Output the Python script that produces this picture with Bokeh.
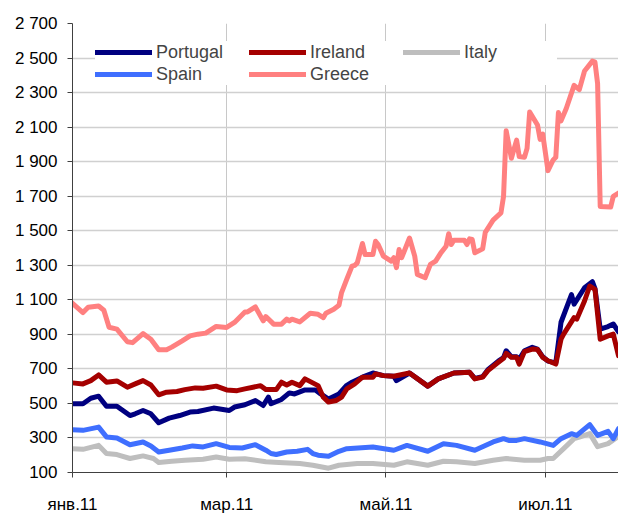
import pandas as pd
from bokeh.plotting import figure
from bokeh.models import FixedTicker, Legend, LegendItem, Range1d
from bokeh.embed import file_html
from bokeh.resources import INLINE

# ---------------- data ----------------
portugal_dates = ["2011-01-01", "2011-01-05", "2011-01-08", "2011-01-11", "2011-01-14", "2011-01-18",
                  "2011-01-23", "2011-01-25", "2011-01-28", "2011-01-31", "2011-02-03", "2011-02-07",
                  "2011-02-11", "2011-02-15", "2011-02-18", "2011-02-24", "2011-03-02", "2011-03-04",
                  "2011-03-08", "2011-03-12", "2011-03-15", "2011-03-17", "2011-03-18", "2011-03-22",
                  "2011-03-25", "2011-03-27", "2011-03-31", "2011-04-04", "2011-04-06", "2011-04-09",
                  "2011-04-13", "2011-04-16", "2011-04-18", "2011-04-22", "2011-04-26", "2011-04-30",
                  "2011-05-04", "2011-05-05", "2011-05-10", "2011-05-17", "2011-05-21", "2011-05-27",
                  "2011-06-02", "2011-06-04", "2011-06-07", "2011-06-09", "2011-06-13", "2011-06-15",
                  "2011-06-16", "2011-06-18", "2011-06-20", "2011-06-21", "2011-06-23", "2011-06-26",
                  "2011-06-28", "2011-06-30", "2011-07-02", "2011-07-05", "2011-07-07", "2011-07-11",
                  "2011-07-12", "2011-07-16", "2011-07-19", "2011-07-20", "2011-07-22", "2011-07-25",
                  "2011-07-27", "2011-07-29"]
portugal_values = [498, 498, 530, 542, 484, 484,
                   430, 440, 459, 440, 388, 415,
                   430, 450, 453, 473, 459, 479,
                   492, 517, 488, 536, 498, 523,
                   561, 555, 578, 578, 555, 525,
                   555, 605, 623, 652, 676, 661,
                   657, 632, 676, 600, 642, 676,
                   680, 645, 655, 695, 745, 765,
                   805, 770, 770, 755, 805, 825,
                   815, 770, 745, 735, 970, 1130,
                   1075, 1170, 1205, 1165, 930, 945,
                   960, 915]

ireland_dates = ["2011-01-01", "2011-01-05", "2011-01-08", "2011-01-11", "2011-01-14", "2011-01-18",
                 "2011-01-22", "2011-01-25", "2011-01-28", "2011-01-31", "2011-02-03", "2011-02-06",
                 "2011-02-10", "2011-02-13", "2011-02-17", "2011-02-20", "2011-02-25", "2011-03-01",
                 "2011-03-05", "2011-03-08", "2011-03-14", "2011-03-16", "2011-03-20", "2011-03-22",
                 "2011-03-24", "2011-03-26", "2011-03-29", "2011-03-31", "2011-04-05", "2011-04-07",
                 "2011-04-09", "2011-04-12", "2011-04-14", "2011-04-16", "2011-04-19", "2011-04-22",
                 "2011-04-26", "2011-04-27", "2011-04-30", "2011-05-04", "2011-05-10", "2011-05-17",
                 "2011-05-21", "2011-05-27", "2011-06-02", "2011-06-04", "2011-06-07", "2011-06-09",
                 "2011-06-13", "2011-06-15", "2011-06-16", "2011-06-18", "2011-06-20", "2011-06-21",
                 "2011-06-23", "2011-06-26", "2011-06-28", "2011-06-30", "2011-07-02", "2011-07-05",
                 "2011-07-07", "2011-07-08", "2011-07-12", "2011-07-13", "2011-07-16", "2011-07-18",
                 "2011-07-20", "2011-07-22", "2011-07-25", "2011-07-27", "2011-07-29"]
ireland_values = [619, 613, 632, 665, 623, 630,
                  594, 613, 632, 607, 550, 565,
                  569, 580, 590, 588, 600, 578,
                  574, 584, 603, 580, 580, 623,
                  607, 623, 603, 642, 603, 536,
                  508, 517, 536, 584, 613, 652,
                  652, 671, 661, 657, 676, 600,
                  642, 676, 680, 642, 652, 690,
                  738, 761, 790, 767, 767, 728,
                  800, 815, 812, 767, 747, 728,
                  872, 901, 997, 988, 1093, 1180,
                  1161, 872, 891, 901, 776]

italy_dates = ["2011-01-01", "2011-01-05", "2011-01-11", "2011-01-14", "2011-01-18", "2011-01-23",
               "2011-01-28", "2011-02-01", "2011-02-03", "2011-02-08", "2011-02-13", "2011-02-20",
               "2011-02-25", "2011-03-02", "2011-03-08", "2011-03-16", "2011-03-21", "2011-03-29",
               "2011-04-03", "2011-04-09", "2011-04-13", "2011-04-20", "2011-04-26", "2011-05-04",
               "2011-05-09", "2011-05-17", "2011-05-23", "2011-05-28", "2011-06-04", "2011-06-11",
               "2011-06-16", "2011-06-23", "2011-06-29", "2011-07-02", "2011-07-04", "2011-07-08",
               "2011-07-12", "2011-07-14", "2011-07-18", "2011-07-21", "2011-07-25", "2011-07-29"]
italy_values = [238, 234, 257, 210, 204, 181,
                196, 181, 158, 165, 171, 177,
                190, 177, 180, 162, 158, 152,
                142, 125, 142, 152, 152, 142,
                162, 142, 165, 162, 152, 171,
                181, 171, 171, 181, 181, 238,
                296, 305, 325, 250, 267, 310]

spain_dates = ["2011-01-01", "2011-01-05", "2011-01-11", "2011-01-14", "2011-01-18", "2011-01-23",
               "2011-01-28", "2011-01-31", "2011-02-03", "2011-02-07", "2011-02-12", "2011-02-16",
               "2011-02-20", "2011-02-25", "2011-03-02", "2011-03-07", "2011-03-12", "2011-03-16",
               "2011-03-18", "2011-03-20", "2011-03-24", "2011-03-28", "2011-04-01", "2011-04-03",
               "2011-04-05", "2011-04-09", "2011-04-13", "2011-04-16", "2011-04-26", "2011-05-04",
               "2011-05-09", "2011-05-17", "2011-05-23", "2011-05-28", "2011-06-04", "2011-06-11",
               "2011-06-15", "2011-06-17", "2011-06-20", "2011-06-23", "2011-06-29", "2011-07-04",
               "2011-07-07", "2011-07-11", "2011-07-13", "2011-07-18", "2011-07-21", "2011-07-25",
               "2011-07-27", "2011-07-29"]
spain_values = [348, 344, 363, 306, 300, 261,
                277, 254, 219, 229, 242, 254,
                248, 267, 245, 242, 261, 229,
                210, 204, 219, 223, 234, 210,
                200, 194, 223, 238, 248, 229,
                257, 223, 267, 257, 229, 277,
                296, 286, 286, 296, 277, 257,
                296, 325, 315, 377, 315, 338,
                296, 354]

greece_dates = ["2011-01-01", "2011-01-05", "2011-01-07", "2011-01-11", "2011-01-13", "2011-01-15",
                "2011-01-18", "2011-01-22", "2011-01-24", "2011-01-28", "2011-01-31", "2011-02-03",
                "2011-02-06", "2011-02-08", "2011-02-12", "2011-02-15", "2011-02-18", "2011-02-21",
                "2011-02-25", "2011-03-01", "2011-03-04", "2011-03-08", "2011-03-09", "2011-03-12",
                "2011-03-15", "2011-03-16", "2011-03-19", "2011-03-22", "2011-03-24", "2011-03-25",
                "2011-03-26", "2011-03-29", "2011-04-02", "2011-04-05", "2011-04-07", "2011-04-08",
                "2011-04-11", "2011-04-13", "2011-04-14", "2011-04-16", "2011-04-18", "2011-04-19",
                "2011-04-20", "2011-04-22", "2011-04-23", "2011-04-26", "2011-04-27", "2011-04-28",
                "2011-04-30", "2011-05-03", "2011-05-04", "2011-05-05", "2011-05-06", "2011-05-07",
                "2011-05-10", "2011-05-12", "2011-05-13", "2011-05-16", "2011-05-18", "2011-05-20",
                "2011-05-22", "2011-05-24", "2011-05-25", "2011-05-26", "2011-05-27", "2011-05-31",
                "2011-06-01", "2011-06-02", "2011-06-03", "2011-06-04", "2011-06-07", "2011-06-08",
                "2011-06-11", "2011-06-14", "2011-06-15", "2011-06-16", "2011-06-18", "2011-06-20",
                "2011-06-21", "2011-06-23", "2011-06-24", "2011-06-25", "2011-06-28", "2011-06-29",
                "2011-06-30", "2011-07-02", "2011-07-04", "2011-07-05", "2011-07-06", "2011-07-07",
                "2011-07-09", "2011-07-12", "2011-07-14", "2011-07-16", "2011-07-19", "2011-07-20",
                "2011-07-21", "2011-07-22", "2011-07-26", "2011-07-27", "2011-07-29"]
greece_values = [1080, 1026, 1057, 1064, 1040, 941,
                 930, 857, 852, 904, 872, 811,
                 811, 826, 862, 891, 901, 907,
                 946, 940, 969, 1030, 1030, 1059,
                 978, 1003, 959, 959, 988, 978,
                 988, 972, 1022, 1016, 997, 1022,
                 1045, 1068, 1142, 1220, 1295, 1299,
                 1314, 1426, 1362, 1362, 1439, 1420,
                 1353, 1324, 1344, 1286, 1391, 1344,
                 1458, 1353, 1247, 1228, 1305, 1324,
                 1372, 1410, 1483, 1420, 1445, 1445,
                 1420, 1453, 1449, 1372, 1395, 1491,
                 1561, 1603, 1699, 2079, 1920, 2025,
                 1929, 1925, 1977, 2188, 2112, 2029,
                 2060, 1848, 1910, 1925, 2184, 2136,
                 2208, 2342, 2317, 2425, 2482, 2476,
                 2352, 1641, 1637, 1699, 1718]

series_names = ["Portugal", "Ireland", "Italy", "Spain", "Greece"]
series_colors = ["#000080", "#A50000", "#BEBEBE", "#3F6FFF", "#FF8080"]

x_tick_dates = ["2011-01-01", "2011-03-01", "2011-05-01", "2011-07-01"]
x_tick_labels = ["янв.11", "мар.11", "май.11", "июл.11"]
y_ticks = [100, 300, 500, 700, 900, 1100, 1300, 1500, 1700, 1900, 2100, 2300, 2500, 2700]
y_tick_labels = ["100", "300", "500", "700", "900", "1 100", "1 300", "1 500", "1 700",
                 "1 900", "2 100", "2 300", "2 500", "2 700"]
x_start, x_end = "2011-01-01", "2011-07-29"

# ---------------- figure ----------------
def ms(d):
    return int(pd.Timestamp(d).value // 10**6)

p = figure(width=618, height=516, x_axis_type="datetime",
           output_backend="svg", toolbar_location=None,
           x_range=Range1d(ms(x_start), ms(x_end)),
           y_range=Range1d(y_ticks[0], y_ticks[-1]),
           min_border_left=72, min_border_right=0, min_border_top=23, min_border_bottom=42)
p.outline_line_color = None
p.background_fill_color = "white"

all_series = [
    (portugal_dates, portugal_values),
    (ireland_dates, ireland_values),
    (italy_dates, italy_values),
    (spain_dates, spain_values),
    (greece_dates, greece_values),
]
renderers = {}
for name, color, (d, v) in zip(series_names, series_colors, all_series):
    r = p.line(pd.to_datetime(d), v, line_color=color, line_width=5,
               line_join="round", line_cap="round")
    renderers[name] = r

# axes
x_tick_ms = [ms(d) for d in x_tick_dates]
p.xaxis.ticker = FixedTicker(ticks=x_tick_ms)
p.xaxis.major_label_overrides = {t: lab for t, lab in zip(x_tick_ms, x_tick_labels)}
p.yaxis.ticker = FixedTicker(ticks=y_ticks)
p.yaxis.major_label_overrides = {t: lab for t, lab in zip(y_ticks, y_tick_labels)}

for ax in (p.xaxis, p.yaxis):
    ax.axis_line_color = "#404040"
    ax.axis_line_width = 1
    ax.major_tick_line_color = "#404040"
    ax.major_tick_out = 5
    ax.major_tick_in = 0
    ax.minor_tick_line_color = None
    ax.major_label_text_font = "Liberation Sans"
    ax.major_label_text_font_size = "17px"
    ax.major_label_text_color = "black"
p.yaxis.major_label_standoff = 10
p.xaxis.major_label_standoff = 17

p.xgrid.ticker = FixedTicker(ticks=x_tick_ms)
p.ygrid.ticker = FixedTicker(ticks=y_ticks)
p.xgrid.grid_line_color = "#c8c8c8"
p.xgrid.grid_line_width = 1
p.ygrid.grid_line_color = "#d0d0d0"
p.ygrid.grid_line_width = 1.5

legend_order = ["Portugal", "Ireland", "Italy", "Spain", "Greece"]
legend = Legend(items=[LegendItem(label=n, renderers=[renderers[n]]) for n in legend_order],
                orientation="horizontal", ncols=3,
                location=(23, 387),
                label_text_font="Liberation Sans", label_text_font_size="18px",
                glyph_width=57, glyph_height=22, label_standoff=4,
                label_width=93, label_height=22, spacing=0, padding=3, margin=0,
                background_fill_color="white", background_fill_alpha=1.0,
                border_line_color=None)
p.add_layout(legend, "center")

open("out.html", "w").write(file_html(p, INLINE))
